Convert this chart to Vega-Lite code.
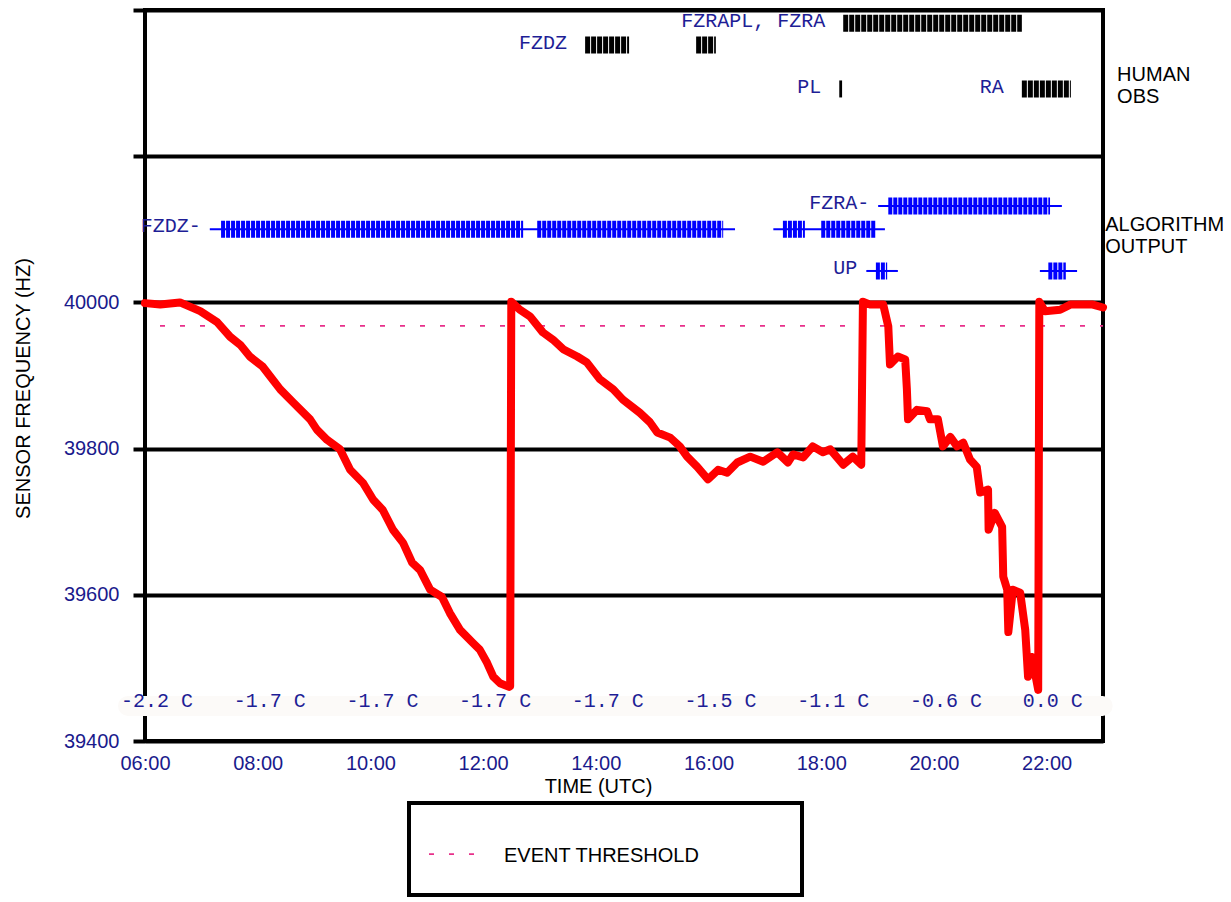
{
  "$schema": "https://vega.github.io/schema/vega-lite/v6.json",
  "width": 958,
  "height": 731,
  "autosize": {"type": "none"},
  "padding": {"left": 145, "top": 10, "right": 128, "bottom": 161},
  "background": "white",
  "config": {
    "view": {"stroke": "black", "strokeWidth": 4},
    "font": "Liberation Sans",
    "legend": {"strokeColor": "black", "strokeWidth": 4, "padding": 19, "fillColor": "white"}
  },
  "datasets": {
    "freq": [
      {"t": 6.00, "f": 39999}, {"t": 6.27, "f": 39997}, {"t": 6.62, "f": 40000}, {"t": 6.98, "f": 39988},
      {"t": 7.28, "f": 39973}, {"t": 7.51, "f": 39953}, {"t": 7.69, "f": 39942}, {"t": 7.86, "f": 39926},
      {"t": 8.09, "f": 39912}, {"t": 8.22, "f": 39899}, {"t": 8.40, "f": 39881}, {"t": 8.63, "f": 39863},
      {"t": 8.93, "f": 39840}, {"t": 9.05, "f": 39826}, {"t": 9.23, "f": 39812}, {"t": 9.46, "f": 39799},
      {"t": 9.64, "f": 39771}, {"t": 9.87, "f": 39753}, {"t": 10.05, "f": 39730}, {"t": 10.22, "f": 39716},
      {"t": 10.40, "f": 39689}, {"t": 10.58, "f": 39671}, {"t": 10.74, "f": 39644}, {"t": 10.88, "f": 39634},
      {"t": 11.06, "f": 39607}, {"t": 11.27, "f": 39597}, {"t": 11.41, "f": 39575}, {"t": 11.59, "f": 39552},
      {"t": 11.82, "f": 39534}, {"t": 11.94, "f": 39525}, {"t": 12.07, "f": 39507}, {"t": 12.18, "f": 39488},
      {"t": 12.30, "f": 39479}, {"t": 12.46, "f": 39474}, {"t": 12.48, "f": 39475}, {"t": 12.50, "f": 40001},
      {"t": 12.65, "f": 39990}, {"t": 12.83, "f": 39981}, {"t": 13.06, "f": 39959}, {"t": 13.24, "f": 39949},
      {"t": 13.42, "f": 39936}, {"t": 13.67, "f": 39926}, {"t": 13.84, "f": 39918}, {"t": 14.07, "f": 39895},
      {"t": 14.31, "f": 39881}, {"t": 14.48, "f": 39867}, {"t": 14.78, "f": 39849}, {"t": 14.96, "f": 39836},
      {"t": 15.09, "f": 39822}, {"t": 15.32, "f": 39815}, {"t": 15.49, "f": 39803}, {"t": 15.62, "f": 39789},
      {"t": 15.80, "f": 39775}, {"t": 15.99, "f": 39758}, {"t": 16.17, "f": 39771}, {"t": 16.33, "f": 39767},
      {"t": 16.51, "f": 39781}, {"t": 16.74, "f": 39789}, {"t": 16.97, "f": 39782}, {"t": 17.22, "f": 39795},
      {"t": 17.41, "f": 39781}, {"t": 17.50, "f": 39792}, {"t": 17.68, "f": 39788}, {"t": 17.85, "f": 39803},
      {"t": 18.03, "f": 39795}, {"t": 18.16, "f": 39799}, {"t": 18.39, "f": 39778}, {"t": 18.56, "f": 39789},
      {"t": 18.71, "f": 39778}, {"t": 18.74, "f": 40001}, {"t": 18.87, "f": 39997}, {"t": 19.10, "f": 39997},
      {"t": 19.19, "f": 39967}, {"t": 19.22, "f": 39915}, {"t": 19.36, "f": 39926}, {"t": 19.49, "f": 39922},
      {"t": 19.52, "f": 39881}, {"t": 19.54, "f": 39840}, {"t": 19.70, "f": 39853}, {"t": 19.88, "f": 39851},
      {"t": 19.93, "f": 39840}, {"t": 20.07, "f": 39840}, {"t": 20.16, "f": 39803}, {"t": 20.29, "f": 39816},
      {"t": 20.41, "f": 39803}, {"t": 20.52, "f": 39808}, {"t": 20.64, "f": 39785}, {"t": 20.76, "f": 39775},
      {"t": 20.82, "f": 39740}, {"t": 20.96, "f": 39744}, {"t": 20.97, "f": 39689}, {"t": 21.08, "f": 39712},
      {"t": 21.21, "f": 39693}, {"t": 21.23, "f": 39625}, {"t": 21.30, "f": 39607}, {"t": 21.32, "f": 39549},
      {"t": 21.40, "f": 39607}, {"t": 21.53, "f": 39603}, {"t": 21.62, "f": 39552}, {"t": 21.67, "f": 39488},
      {"t": 21.74, "f": 39515}, {"t": 21.85, "f": 39470}, {"t": 21.87, "f": 40001}, {"t": 21.97, "f": 39988},
      {"t": 22.24, "f": 39990}, {"t": 22.42, "f": 39997}, {"t": 22.82, "f": 39997}, {"t": 23.00, "f": 39993}
    ],
    "threshold": [{"f": 39968, "series": "EVENT THRESHOLD"}],
    "human": [
      {"label": "FZRAPL, FZRA", "f": 40382, "t": 18.39, "t2": 21.56},
      {"label": "FZDZ", "f": 40352, "t": 13.81, "t2": 14.59},
      {"label": "", "f": 40352, "t": 15.78, "t2": 16.13},
      {"label": "PL", "f": 40292, "t": 18.32, "t2": 18.37},
      {"label": "RA", "f": 40292, "t": 21.56, "t2": 22.43}
    ],
    "algoBars": [
      {"f": 40100, "t": 7.35, "t2": 12.71},
      {"f": 40100, "t": 12.96, "t2": 16.26},
      {"f": 40100, "t": 17.32, "t2": 17.71},
      {"f": 40100, "t": 18.00, "t2": 18.96},
      {"f": 40132, "t": 19.19, "t2": 22.06},
      {"f": 40043, "t": 18.97, "t2": 19.17},
      {"f": 40043, "t": 22.03, "t2": 22.34}
    ],
    "algoLines": [
      {"label": "FZDZ-", "f": 40100, "t": 7.15, "t2": 16.47},
      {"label": "", "f": 40100, "t": 17.15, "t2": 19.13},
      {"label": "FZRA-", "f": 40132, "t": 19.01, "t2": 22.27},
      {"label": "UP", "f": 40043, "t": 18.80, "t2": 19.36},
      {"label": "", "f": 40043, "t": 21.88, "t2": 22.54}
    ],
    "temps": [
      {"t": 6, "label": "-2.2 C"}, {"t": 8, "label": "-1.7 C"}, {"t": 10, "label": "-1.7 C"},
      {"t": 12, "label": "-1.7 C"}, {"t": 14, "label": "-1.7 C"}, {"t": 16, "label": "-1.5 C"},
      {"t": 18, "label": "-1.1 C"}, {"t": 20, "label": "-0.6 C"}, {"t": 22, "label": "0.0 C"}
    ],
    "side": [
      {"label": "HUMAN\nOBS", "t": 23.25, "f": 40311},
      {"label": "ALGORITHM\nOUTPUT", "t": 23.04, "f": 40106}
    ]
  },
  "layer": [
    {
      "data": {"name": "temps"},
      "mark": {"type": "rule", "color": "#fcfaf8", "strokeWidth": 20, "strokeCap": "round", "xOffset": -17, "x2Offset": 56},
      "encoding": {
        "x": {"aggregate": "min", "field": "t", "type": "quantitative",
          "scale": {"domain": [6, 23], "nice": false, "zero": false},
          "axis": {
            "values": [6, 8, 10, 12, 14, 16, 18, 20, 22],
            "labelExpr": "(datum.value < 10 ? '0' : '') + datum.value + ':00'",
            "grid": false, "ticks": false, "domain": false,
            "labelColor": "#1a1a8c", "labelFont": "Liberation Sans", "labelFontSize": 20,
            "labelPadding": 12, "labelFlush": false, "labelOverlap": false,
            "title": "TIME (UTC)", "titleFont": "Liberation Sans", "titleFontSize": 20,
            "titleFontWeight": "normal", "titleColor": "black", "titlePadding": 3, "titleX": 453
          }
        },
        "x2": {"aggregate": "max", "field": "t"},
        "y": {"datum": 39448, "type": "quantitative",
          "scale": {"domain": [39400, 40400], "nice": false, "zero": false},
          "axis": {
            "values": [39400, 39600, 39800, 40000, 40200, 40400],
            "format": "d",
            "labelExpr": "datum.value <= 40000 ? datum.label : ''",
            "grid": true, "gridColor": "black", "gridWidth": 4, "gridOpacity": 1,
            "ticks": true, "tickColor": "black", "tickWidth": 4, "tickSize": 12, "tickOpacity": 1,
            "domain": false,
            "labelColor": "#1a1a8c", "labelFont": "Liberation Sans", "labelFontSize": 20, "labelPadding": 14,
            "title": "SENSOR FREQUENCY (HZ)", "titleFont": "Liberation Sans", "titleFontSize": 20,
            "titleFontWeight": "normal", "titleColor": "black", "titlePadding": 30, "titleY": 378
          }
        }
      }
    },
    {
      "data": {"name": "threshold"},
      "mark": {"type": "rule", "strokeDash": [5, 15], "strokeDashOffset": 2, "strokeWidth": 1.8},
      "encoding": {
        "y": {"field": "f", "type": "quantitative", "scale": {"domain": [39400, 40400], "nice": false, "zero": false}},
        "color": {"field": "series", "type": "nominal",
          "scale": {"range": ["#e8308a"]},
          "legend": {
            "orient": "none", "legendX": 264, "legendY": 793, "title": null,
            "symbolType": "M-1,-0.2H1M0,0.25", "symbolSize": 6084, "symbolStrokeWidth": 1.8,
            "symbolDash": [5, 15, 5, 15, 5, 100],
            "labelFont": "Liberation Sans", "labelFontSize": 20, "labelColor": "black",
            "labelBaseline": "alphabetic",
            "labelOffset": -4, "labelLimit": 500,
            "labelExpr": "datum.label + '\u00a0\u00a0\u00a0\u00a0\u00a0\u00a0\u00a0\u00a0\u00a0\u00a0\u00a0\u00a0\u00a0\u00a0\u00a0\u200b'"
          }
        }
      }
    },
    {
      "data": {"name": "human"},
      "mark": {"type": "rule", "color": "#000000", "strokeWidth": 17, "strokeDash": [5, 1]},
      "encoding": {
        "x": {"field": "t", "type": "quantitative", "scale": {"domain": [6, 23], "nice": false, "zero": false}},
        "x2": {"field": "t2"},
        "y": {"field": "f", "type": "quantitative", "scale": {"domain": [39400, 40400], "nice": false, "zero": false}}
      }
    },
    {
      "data": {"name": "algoLines"},
      "mark": {"type": "rule", "color": "#0000ff", "strokeWidth": 2},
      "encoding": {
        "x": {"field": "t", "type": "quantitative", "scale": {"domain": [6, 23], "nice": false, "zero": false}},
        "x2": {"field": "t2"},
        "y": {"field": "f", "type": "quantitative", "scale": {"domain": [39400, 40400], "nice": false, "zero": false}}
      }
    },
    {
      "data": {"name": "algoBars"},
      "mark": {"type": "rule", "color": "#0000ff", "strokeWidth": 17, "strokeDash": [4, 1]},
      "encoding": {
        "x": {"field": "t", "type": "quantitative", "scale": {"domain": [6, 23], "nice": false, "zero": false}},
        "x2": {"field": "t2"},
        "y": {"field": "f", "type": "quantitative", "scale": {"domain": [39400, 40400], "nice": false, "zero": false}}
      }
    },
    {
      "data": {"name": "freq"},
      "mark": {"type": "line", "color": "#ff0000", "strokeWidth": 8, "strokeJoin": "round", "strokeCap": "round"},
      "encoding": {
        "x": {"field": "t", "type": "quantitative", "scale": {"domain": [6, 23], "nice": false, "zero": false}},
        "y": {"field": "f", "type": "quantitative", "scale": {"domain": [39400, 40400], "nice": false, "zero": false}}
      }
    },
    {
      "data": {"name": "human"},
      "transform": [{"filter": "datum.label != ''"}],
      "mark": {"type": "text", "align": "right", "baseline": "middle", "dx": -18, "dy": -2, "font": "Liberation Mono", "fontSize": 20, "color": "#1e1e96"},
      "encoding": {
        "x": {"field": "t", "type": "quantitative", "scale": {"domain": [6, 23], "nice": false, "zero": false}},
        "y": {"field": "f", "type": "quantitative", "scale": {"domain": [39400, 40400], "nice": false, "zero": false}},
        "text": {"field": "label"}
      }
    },
    {
      "data": {"name": "algoLines"},
      "transform": [{"filter": "datum.label != ''"}],
      "mark": {"type": "text", "align": "right", "baseline": "middle", "dx": -9, "dy": -3, "font": "Liberation Mono", "fontSize": 20, "color": "#1e1e96"},
      "encoding": {
        "x": {"field": "t", "type": "quantitative", "scale": {"domain": [6, 23], "nice": false, "zero": false}},
        "y": {"field": "f", "type": "quantitative", "scale": {"domain": [39400, 40400], "nice": false, "zero": false}},
        "text": {"field": "label"}
      }
    },
    {
      "data": {"name": "temps"},
      "mark": {"type": "text", "align": "left", "baseline": "middle", "dx": -24, "dy": -2, "font": "Liberation Mono", "fontSize": 20, "color": "#1e1e96"},
      "encoding": {
        "x": {"field": "t", "type": "quantitative", "scale": {"domain": [6, 23], "nice": false, "zero": false}},
        "y": {"datum": 39452, "type": "quantitative", "scale": {"domain": [39400, 40400], "nice": false, "zero": false}},
        "text": {"field": "label"}
      }
    },
    {
      "data": {"name": "side"},
      "mark": {"type": "text", "align": "left", "baseline": "middle", "lineBreak": "\n", "lineHeight": 22, "font": "Liberation Sans", "fontSize": 20, "color": "black"},
      "encoding": {
        "x": {"field": "t", "type": "quantitative", "scale": {"domain": [6, 23], "nice": false, "zero": false}},
        "y": {"field": "f", "type": "quantitative", "scale": {"domain": [39400, 40400], "nice": false, "zero": false}},
        "text": {"field": "label"}
      }
    }
  ]
}
